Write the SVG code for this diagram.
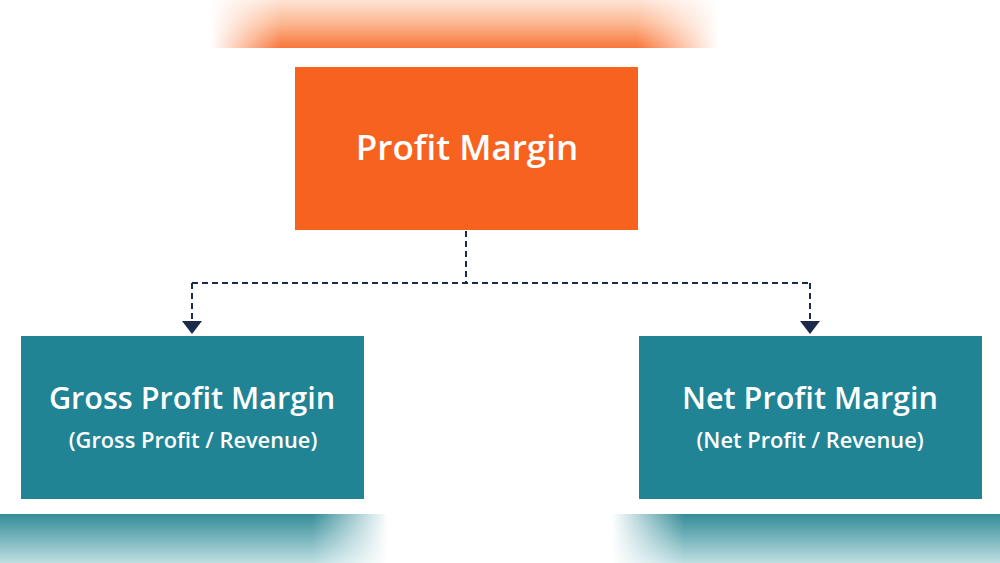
<svg xmlns="http://www.w3.org/2000/svg" width="1000" height="563" viewBox="0 0 1000 563">
<style>
.title{font-family:"Open Sans","Noto Sans","Liberation Sans",sans-serif;font-weight:600;fill:#ffffff;text-anchor:middle}
.sub{font-family:"Open Sans","Noto Sans","Liberation Sans",sans-serif;font-weight:600;fill:#ffffff;text-anchor:middle;font-size:21.8px}
.conn{fill:none;stroke:#1c2b4b;stroke-width:2;stroke-dasharray:6 4}
.teal{fill:#208494}
</style>
<defs>
<linearGradient id="topV" x1="0" y1="0" x2="0" y2="1">
<stop offset="0" stop-color="#fee4d6"/>
<stop offset="0.5" stop-color="#fcb68f"/>
<stop offset="1" stop-color="#f8763a"/>
</linearGradient>
<linearGradient id="topH" x1="200" y1="0" x2="740" y2="0" gradientUnits="userSpaceOnUse">
<stop offset="0" stop-color="#000"/>
<stop offset="0.02" stop-color="#000"/>
<stop offset="0.15" stop-color="#fff"/>
<stop offset="0.81" stop-color="#fff"/>
<stop offset="0.96" stop-color="#000"/>
<stop offset="1" stop-color="#000"/>
</linearGradient>
<mask id="topMask"><rect x="200" y="0" width="540" height="48" fill="url(#topH)"/></mask>
<linearGradient id="botV" x1="0" y1="0" x2="0" y2="1">
<stop offset="0" stop-color="#348c97"/>
<stop offset="1" stop-color="#bedee2"/>
</linearGradient>
<linearGradient id="botLH" x1="0" y1="0" x2="400" y2="0" gradientUnits="userSpaceOnUse">
<stop offset="0" stop-color="#fff"/>
<stop offset="0.78" stop-color="#fff"/>
<stop offset="0.97" stop-color="#000"/>
<stop offset="1" stop-color="#000"/>
</linearGradient>
<linearGradient id="botRH" x1="600" y1="0" x2="1000" y2="0" gradientUnits="userSpaceOnUse">
<stop offset="0" stop-color="#000"/>
<stop offset="0.03" stop-color="#000"/>
<stop offset="0.21" stop-color="#fff"/>
<stop offset="1" stop-color="#fff"/>
</linearGradient>
<mask id="botLMask"><rect x="0" y="514" width="400" height="49" fill="url(#botLH)"/></mask>
<mask id="botRMask"><rect x="600" y="514" width="400" height="49" fill="url(#botRH)"/></mask>
</defs>
<rect width="1000" height="563" fill="#ffffff"/>
<g id="decor">
<rect x="200" y="0" width="540" height="48" fill="url(#topV)" mask="url(#topMask)"/>
<rect x="0" y="514" width="400" height="49" fill="url(#botV)" mask="url(#botLMask)"/>
<rect x="600" y="514" width="400" height="49" fill="url(#botV)" mask="url(#botRMask)"/>
</g>
<g id="connectors">
<path class="conn" d="M466,231 V283"/>
<path class="conn" d="M192,283 H810"/>
<path class="conn" d="M192,283 V321"/>
<path class="conn" d="M810,283 V321"/>
<path d="M182,321 L202,321 L192,334 Z" fill="#1c2b4b"/>
<path d="M800,321 L820,321 L810,334 Z" fill="#1c2b4b"/>
</g>
<g id="profit-margin">
<rect x="295" y="67" width="343" height="163" fill="#f8621f"/>
<text class="title" x="467" y="160" font-size="35">Profit Margin</text>
</g>
<g id="gross-profit-margin">
<rect class="teal" x="21" y="336" width="343" height="163"/>
<text class="title" x="192" y="409" font-size="30.6">Gross Profit Margin</text>
<text class="sub" x="193" y="448">(Gross Profit / Revenue)</text>
</g>
<g id="net-profit-margin">
<rect class="teal" x="639" y="336" width="343" height="163"/>
<text class="title" x="810" y="409" font-size="30.6">Net Profit Margin</text>
<text class="sub" x="810" y="448">(Net Profit / Revenue)</text>
</g>
</svg>
